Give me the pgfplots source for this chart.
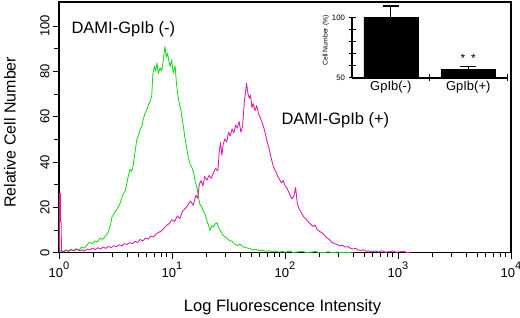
\documentclass[border=0pt]{standalone}
\usepackage{fontspec}
\setmainfont{Liberation Sans}
\setsansfont{Liberation Sans}
\usepackage{pgfplots}
\pgfplotsset{compat=1.18}
\definecolor{fgreen}{RGB}{20,220,20}
\definecolor{fmag}{RGB}{228,20,172}
\newcommand{\ex}[1]{\raisebox{7.5pt}{\fontsize{11}{11}\selectfont #1}}
\begin{document}
\begin{tikzpicture}
\begin{axis}[
  at={(0,0)}, anchor=south west,
  scale only axis, width=452pt, height=250.7pt,
  xmin=0, xmax=1024, ymin=0, ymax=110.6,
  axis line style={line width=1.2pt},
  xtick={0,256,512,768,1024},
  xticklabels={10\ex{0},10\ex{1},10\ex{2},10\ex{3},10\ex{4}},
  minor xtick={77.1,122.1,154.1,178.9,199.2,216.3,231.2,244.3,
    333.1,378.1,410.1,434.9,455.2,472.3,487.2,500.3,
    589.1,634.1,666.1,690.9,711.2,728.3,743.2,756.3,
    845.1,890.1,922.1,946.9,967.2,984.3,999.2,1012.3},
  ytick={0,20,...,100},
  minor ytick={10,30,...,90},
  tick align=outside, tick pos=left,
  major tick length=6pt, minor tick length=4.5pt,
  every tick/.style={black, line width=0.9pt},
  /pgf/number format/assume math mode=true,
  ticklabel style={font=\fontsize{13}{13}\selectfont},
  yticklabel style={rotate=90, anchor=south},
  xlabel={Log Fluorescence Intensity},
  xlabel style={at={(axis description cs:0.4945,-0.2166)}, anchor=center, font=\fontsize{16.5}{16.5}\selectfont},
  ylabel={Relative Cell Number},
  ylabel style={at={(axis description cs:-0.1084,0.48)}, anchor=center, rotate=0, font=\fontsize{16}{16}\selectfont},
]
\addplot[sharp plot, draw=fgreen, line width=0.85pt, line join=round] coordinates {
(0,0.4) (3,0.8) (9,0.3) (15,1.2) (21,0.6) (27,1.5) (33,0.9) (39,1.8) (45,1.1) (51,2.4)
(57,2.0) (63,3.3) (69,4.6) (75,3.9) (81,5.2) (87,4.8) (93,6.4) (99,5.9) (105,7.3) (111,8.8)
(117,12.5) (120,15.8) (126,17.6) (132,19.4) (138,21.6) (144,25.3) (150,27.4) (153,29.8) (156,33.0) (161,36.8)
(165,35.9) (168,38.5) (172,44.0) (176,49.6) (180,51.8) (184,54.3) (188,56.1) (191,58.9) (195,61.5) (199,63.2)
(203,65.4) (207,67.0) (210,69.2) (213,79.5) (216,82.3) (219,80.1) (222,83.7) (225,78.9) (229,81.6) (233,80.2)
(236,84.8) (240,90.9) (243,86.2) (246,88.0) (249,84.5) (252,82.0) (255,85.1) (259,79.3) (263,82.4) (266,75.0)
(269,69.8) (272,66.4) (276,63.0) (279,59.2) (282,55.4) (285,51.0) (289,46.5) (293,42.1) (297,39.0) (301,37.6)
(305,35.2) (309,31.0) (313,28.4) (316,24.6) (319,21.5) (323,20.4) (327,18.3) (331,16.9) (335,14.2) (339,12.0)
(342,9.8) (346,11.9) (350,11.3) (354,12.8) (358,13.2) (362,10.9) (366,9.6) (370,8.1) (375,7.2) (380,6.5)
(386,5.4) (392,5.0) (398,3.8) (404,3.2) (410,3.9) (416,2.6) (422,2.3) (428,2.0) (434,1.7) (440,1.2)
(447,1.5) (454,0.8) (461,1.1) (468,0.6) (475,0.9) (482,0.4) (490,0.7) (498,0.3) (506,0.5) (514,0.2)
(522,0.8) (530,0.1) (540,0.3) (550,0.6) (560,0.1) (570,0.2) (580,0.5) (590,0.1) (600,0.0) (610,0.4)
(620,0.0) (630,0.3) (640,0.0) (650,0.2) (660,0.0) (668,0.0)
};
\addplot[sharp plot, draw=fmag, line width=0.85pt, line join=round] coordinates {
(1,1.0) (1.5,26.2) (3,26.2) (3.5,13.7) (5,13.7) (5.5,1.0) (10,0.4) (16,1.1) (22,0.6) (28,1.4) (34,0.8) (40,1.5) (46,0.9)
(52,1.3) (58,0.7) (64,1.6) (70,1.2) (76,2.0) (82,1.4) (88,2.2) (94,1.6) (100,2.5) (106,1.9)
(112,2.8) (118,2.2) (124,3.1) (130,2.6) (136,3.5) (142,3.0) (148,4.0) (154,3.6) (160,4.4) (166,4.0)
(172,5.0) (178,4.5) (184,5.8) (190,5.2) (196,6.5) (202,6.0) (208,7.4) (214,6.9) (220,8.3) (226,9.0)
(232,9.6) (238,10.8) (244,12.1) (250,12.9) (256,14.6) (262,13.8) (268,16.2) (274,15.0) (280,18.4) (286,19.5)
(292,21.0) (298,22.8) (304,20.9) (310,25.3) (314,24.0) (318,30.2) (322,31.8) (326,29.5) (330,33.6) (335,32.0)
(340,34.1) (345,32.8) (350,35.4) (355,37.2) (360,36.0) (363,44.5) (366,48.6) (369,43.0) (372,47.9) (376,50.2)
(380,48.8) (384,53.1) (388,51.5) (392,54.6) (396,52.8) (400,56.3) (404,55.0) (408,57.9) (412,53.2) (416,56.0)
(420,66.8) (423,71.5) (425,74.7) (428,70.2) (431,68.1) (434,69.5) (437,64.0) (440,65.8) (444,62.7) (448,64.9)
(452,61.3) (456,59.6) (460,57.5) (464,55.2) (468,52.0) (472,48.6) (476,45.9) (480,42.3) (484,39.1) (488,36.8)
(492,35.5) (496,33.4) (500,32.2) (504,30.8) (508,31.9) (512,29.5) (516,28.6) (520,26.9) (524,25.1) (528,23.7)
(532,24.9) (536,28.8) (540,21.5) (544,19.3) (548,18.0) (552,16.6) (556,15.4) (560,14.8) (565,13.5) (570,12.6)
(575,11.6) (580,12.2) (585,10.1) (590,9.4) (595,8.9) (600,8.0) (606,6.7) (612,5.9) (618,4.6) (624,4.1)
(630,3.6) (636,3.0) (642,3.3) (648,2.5) (654,2.7) (660,2.0) (666,1.6) (672,1.9) (678,1.2) (684,1.0)
(690,1.3) (696,0.6) (702,0.8) (708,0.4) (716,0.7) (724,0.3) (732,0.9) (740,0.2) (748,0.5) (756,0.8)
(764,0.2) (772,0.4) (780,0.7) (788,0.1) (796,0.0)
};
\node[anchor=west, font=\fontsize{16.5}{16.5}\selectfont] at (rel axis cs:0.020,0.892) {DAMI-GpIb (-)};
\node[anchor=west, font=\fontsize{16.5}{16.5}\selectfont] at (rel axis cs:0.4845,0.529) {DAMI-GpIb (+)};
\end{axis}
\begin{axis}[
  at={(293pt,174.7pt)}, anchor=south west,
  scale only axis, width=155pt, height=60.5pt,
  xmin=0.5, xmax=2.5, ymin=50, ymax=100,
  y coord trafo/.code={\pgfmathparse{#1-50}},
  y coord inv trafo/.code={\pgfmathparse{#1+50}},
  clip=false,
  axis x line*=bottom, axis y line*=left,
  axis line style={line width=1.2pt, -},
  ybar, bar width=54pt,
  xtick={1.5,2.5}, xticklabels={},
  extra x ticks={1,2}, extra x tick labels={GpIb(-),GpIb(+)},
  extra x tick style={major tick length=0pt},
  ytick={50,60,...,100}, yticklabels={50,,,,,100},
  tick align=center, major tick length=7pt,
  every tick/.style={black, line width=1pt},
  /pgf/number format/assume math mode=true,
  yticklabel style={font=\fontsize{7.8}{7.8}\selectfont},
  xticklabel style={font=\fontsize{13}{13}\selectfont},
  ylabel={Cell Number (\%)},
  ylabel style={at={(axis description cs:-0.168,0.62)}, anchor=center, font=\fontsize{6.8}{6.8}\selectfont},
]
\addplot[fill=black, draw=black,
  error bars/.cd, y dir=plus, y explicit,
  error bar style={line width=1.2pt, black},
  error mark options={rotate=90, mark size=8pt, line width=1.2pt, black}]
  coordinates {(1,100) +- (0,9.5) (2,57.2) +- (0,2.1)};
\node[font=\fontsize{12}{12}\selectfont] at (axis cs:2,66.5) {*\hspace{6pt}*};
\end{axis}
\pgfresetboundingbox
\path[use as bounding box] (-59pt,-65.3pt) rectangle (461pt,252.7pt);
\end{tikzpicture}
\end{document}
